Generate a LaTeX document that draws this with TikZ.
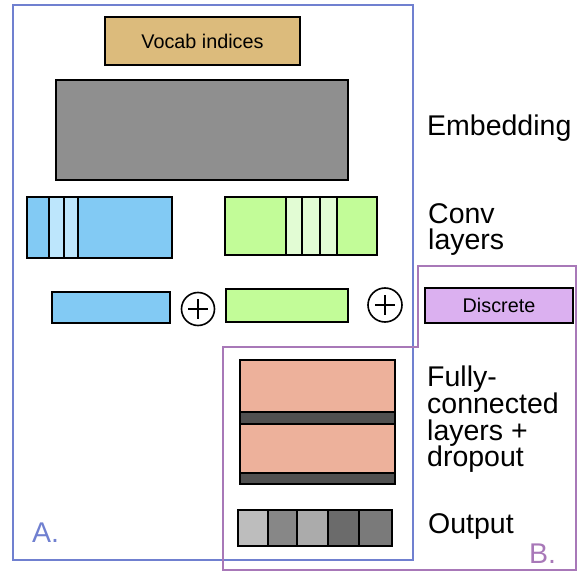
\documentclass[tikz,border=0pt]{standalone}
\usepackage{fontspec}
\setmainfont{Liberation Sans}
\usepackage{xcolor}
\definecolor{vocabfill}{HTML}{DCBB7C}
\definecolor{embfill}{HTML}{8F8F8F}
\definecolor{bluefill}{HTML}{82CAF4}
\definecolor{bluelight}{HTML}{BDE6FC}
\definecolor{greenfill}{HTML}{C2FC98}
\definecolor{greenlight}{HTML}{E2FCD4}
\definecolor{fcfill}{HTML}{EDB19B}
\definecolor{barfill}{HTML}{505050}
\definecolor{discfill}{HTML}{DBB0F0}
\definecolor{frameA}{HTML}{7080D0}
\definecolor{frameB}{HTML}{A878B8}

\begin{document}
\begin{tikzpicture}[x=1pt,y=-1pt,
  box/.style={draw=black, line width=1.6pt},
  label/.style={anchor=base west, inner sep=0pt, font=\fontsize{28.5}{26.8}\selectfont, align=left},
  tag/.style={draw=black, line width=1.6pt, inner sep=0pt, font=\fontsize{19.8}{20}\selectfont}]
  \useasboundingbox (0,0) rectangle (582,572);
  % frames A and B
  \draw[frameA, line width=1.8pt] (13,5) rectangle (413,560);
  \draw[frameB, line width=1.8pt] (418,266) -- (576,266) -- (576,570) -- (223,570) -- (223,347) -- (418,347) -- cycle;
  \node[frameA, anchor=base west, inner sep=0pt, font=\fontsize{28.5}{28}\selectfont] (tagA) at (32,543) {A.};
  \node[frameB, anchor=base west, inner sep=0pt, font=\fontsize{28.5}{28}\selectfont] (tagB) at (529,563) {B.};
  % input and embedding
  \node[tag, fill=vocabfill, minimum width=195pt, minimum height=48pt] (vocab) at (202.5,41) {Vocab indices};
  \draw[box, fill=embfill] (56,80) rectangle (348,180);
  % conv layers
  \draw[box, fill=bluefill] (27,197) rectangle (172,258);
  \draw[box, fill=bluelight] (49,197) rectangle (64,258);
  \draw[box, fill=bluelight] (64,197) rectangle (78,258);
  \draw[box, fill=greenfill] (225,197) rectangle (377,255);
  \foreach \a/\b in {286/302, 302/320, 320/337}
    \draw[box, fill=greenlight] (\a,197) rectangle (\b,255);
  % pooled features
  \draw[box, fill=bluefill] (52,292) rectangle (170,323);
  \node[draw=black, line width=1.6pt, circle, minimum size=33pt, inner sep=0pt] (plusA) at (198,309) {};
  \draw[line width=1.1pt] ([xshift=-10pt]plusA.center) -- ([xshift=10pt]plusA.center)
    ([yshift=-10pt]plusA.center) -- ([yshift=10pt]plusA.center);
  \draw[box, fill=greenfill] (226,289) rectangle (348,322);
  \node[draw=black, line width=1.6pt, circle, minimum size=34pt, inner sep=0pt] (plusB) at (385,305) {};
  \draw[line width=1.1pt] ([xshift=-10pt]plusB.center) -- ([xshift=10pt]plusB.center)
    ([yshift=-10pt]plusB.center) -- ([yshift=10pt]plusB.center);
  \node[tag, fill=discfill, minimum width=148pt, minimum height=35pt] (disc) at (499,305.5) {Discrete};
  % fully-connected + dropout
  \draw[box, fill=fcfill] (240,360) rectangle (395,484);
  \draw[box, fill=barfill] (240,412) rectangle (395,424);
  \draw[box, fill=barfill] (240,473) rectangle (395,484);
  % output
  \foreach \a/\b/\g in {238/268/26, 268/297/47, 297/328/33, 328/359/58, 359/392/52}
    \draw[box, fill=black!\g] (\a,510) rectangle (\b,546);
  % labels (base anchor sits on the last line)
  \node[label] (lemb) at (427,136) {Embedding};
  \node[label] (lconv) at (428,250) {Conv\\layers};
  \node[label] (lfc) at (427,467) {Fully-\\connected\\layers +\\dropout};
  \node[label] (lout) at (428,533) {Output};
\end{tikzpicture}
\end{document}
